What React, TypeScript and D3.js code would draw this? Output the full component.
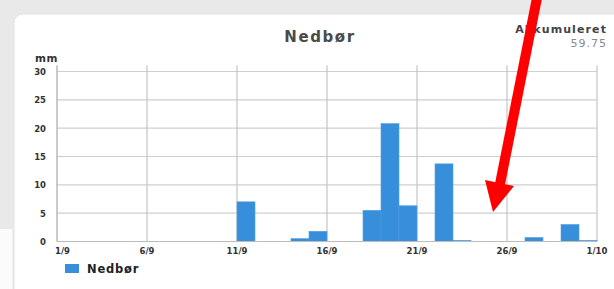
import React from "react";
import * as d3 from "d3";

// daily precipitation, September (day of month -> mm)
const days = [11, 14, 15, 18, 19, 20, 22, 23, 27, 29, 30];
const values = [7.0, 0.5, 1.8, 5.5, 20.8, 6.3, 13.7, 0.2, 0.7, 3.0, 0.2];
const xTicks = [1, 6, 11, 16, 21, 26, 31];
const xTickLabels = ["1/9", "6/9", "11/9", "16/9", "21/9", "26/9", "1/10"];
const yTicks = [0, 5, 10, 15, 20, 25, 30];
const total = "59.75";

const W = 614;
const H = 289;
const font = "'DejaVu Sans', sans-serif";

export default function App() {
  const x = d3.scaleLinear().domain([1, 31]).range([57, 597]);
  const y = d3.scaleLinear().domain([0, 30]).range([241.5, 71.5]);

  // red annotation arrow drawn over the screenshot
  const shaft = d3.line()([
    [537, -2],
    [500, 184],
  ]);

  return (
    <svg
      width={W}
      height={H}
      style={{ position: "fixed", left: 0, top: 0 }}
      fontFamily={font}
    >
      <rect width={W} height={H} fill="#e9e9e9" />
      <rect x={0} y={229} width={13} height={H - 229} fill="#fbfbfb" />
      <line x1={13} x2={13} y1={229} y2={H} stroke="#e2e2e2" />
      <rect
        x={14}
        y={14}
        width={W + 20}
        height={H + 20}
        rx={9}
        fill="#fff"
        stroke="#e4e4e4"
      />

      <text x={320} y={42} textAnchor="middle" fontSize={15} fontWeight={700} fill="#4a4a4a" letterSpacing={1.6}>
        Nedbør
      </text>
      <text x={607} y={33} textAnchor="end" fontSize={11} fontWeight={700} fill="#444" letterSpacing={1.1}>
        Akkumuleret
      </text>
      <text x={607} y={47} textAnchor="end" fontSize={11} fill="#8a8a8a" letterSpacing={1}>
        {total}
      </text>

      <text x={35} y={62} fontSize={10.5} fontWeight={700} fill="#333" letterSpacing={0.5}>
        mm
      </text>

      {/* horizontal grid */}
      {yTicks.map((t) => (
        <g key={"y" + t}>
          <line x1={x(1)} x2={x(31)} y1={y(t)} y2={y(t)} stroke="#cfcfcf" strokeWidth={1.2} />
          <text x={46} y={y(t) + 3.5} textAnchor="end" fontSize={8.5} fontWeight={700} fill="#333">
            {t}
          </text>
        </g>
      ))}

      {/* vertical grid */}
      {xTicks.map((t, i) => (
        <g key={"x" + t}>
          <line
            x1={x(t)}
            x2={x(t)}
            y1={y(30) - 6}
            y2={y(0)}
            stroke={i === 0 ? "#a8a8a8" : "#c4c4c4"}
            strokeWidth={1.2}
          />
          <text
            x={i === 0 ? x(t) - 2 : x(t)}
            y={254}
            textAnchor={i === 0 ? "start" : "middle"}
            fontSize={8.5}
            fontWeight={700}
            fill="#333"
          >
            {xTickLabels[i]}
          </text>
        </g>
      ))}

      {/* bars */}
      {days.map((d, i) => (
        <rect
          key={"b" + d}
          x={x(d)}
          y={y(values[i])}
          width={x(d + 1) - x(d)}
          height={y(0) - y(values[i])}
          fill="#378fdb"
          stroke="#4f9de2"
          strokeWidth={0.6}
        />
      ))}
      <line x1={x(1)} x2={x(31)} y1={y(0)} y2={y(0)} stroke="#bdbdbd" strokeWidth={1.2} />

      {/* legend */}
      <rect x={65} y={264} width={14} height={9} fill="#378fdb" />
      <text x={87} y={273} fontSize={11.5} fontWeight={700} fill="#222" letterSpacing={0.8}>
        Nedbør
      </text>

      {/* annotation arrow */}
      <path d={shaft ?? ""} stroke="#ff0000" strokeWidth={10} fill="none" />
      <path d="M485,180 L514,186 L493,212 Z" fill="#ff0000" />
    </svg>
  );
}
